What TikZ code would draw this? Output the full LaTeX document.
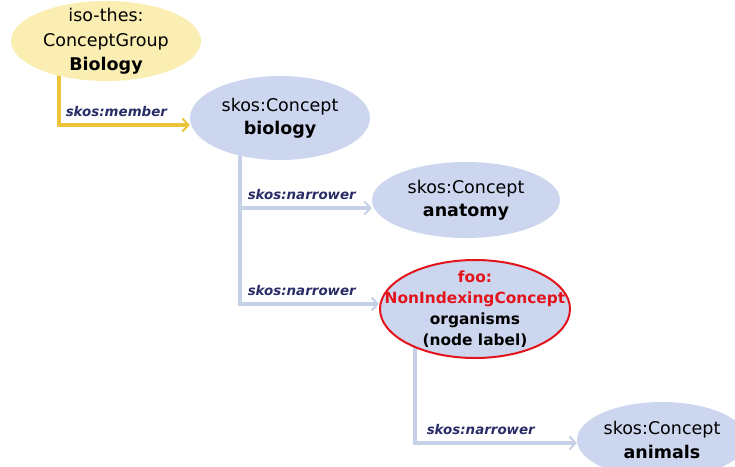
\documentclass[tikz,border=0pt]{standalone}
\usepackage{fontspec}
\setmainfont{DejaVu Sans}
\usetikzlibrary{shapes.geometric, arrows.meta, backgrounds}

\definecolor{groupfill}{HTML}{FAEEB3}
\definecolor{conceptfill}{HTML}{CCD6EF}
\definecolor{linkblue}{HTML}{C6D0E6}
\definecolor{linkyellow}{HTML}{EBC43C}
\definecolor{labelnavy}{HTML}{2A2C68}
\definecolor{nonindex}{HTML}{E3141C}

\tikzset{
    concept/.style={ellipse, fill=conceptfill, align=center,
        inner xsep=-30pt, inner ysep=-20pt,
        font=\fontsize{17.5}{23.5}\selectfont},
    group/.style={concept, fill=groupfill},
    narrowlink/.style={draw=linkblue, line width=3.5pt,
        -{Straight Barb[length=6pt, width=13pt, line width=2pt]}},
    memberlink/.style={narrowlink, draw=linkyellow},
    linklabel/.style={font=\fontsize{13.4}{15}\selectfont\bfseries\itshape,
        text=labelnavy, inner sep=2pt}
}

\begin{document}
\begin{tikzpicture}[x=1pt, y=-1pt]
    \useasboundingbox (0,0) rectangle (735,466);

    % nodes
    \node[group, minimum width=190pt, minimum height=80pt] (bio) at (106,41)
        {\raisebox{2pt}{iso-thes:}\\ConceptGroup\\\textbf{Biology}};
    \node[concept, minimum width=180pt, minimum height=84pt] (biology) at (280,118)
        {skos:Concept\\\textbf{biology}};
    \node[concept, minimum width=188pt, minimum height=76pt] (anatomy) at (466,200)
        {skos:Concept\\\textbf{anatomy}};
    \node[concept, draw=nonindex, line width=2pt, minimum width=190pt,
        minimum height=98pt, font=\fontsize{15.4}{21}\selectfont\bfseries] (organisms) at (475,309)
        {\textcolor{nonindex}{foo:}\\\textcolor{nonindex}{NonIndexingConcept}\\organisms\\(node label)};
    \node[concept, minimum width=170pt, minimum height=76pt] (animals) at (662,440)
        {skos:Concept\\\textbf{animals}};

    % links
    \begin{scope}[on background layer]
        \draw[memberlink] ([xshift=-47pt]bio.center) |- ([yshift=-7pt]biology.west)
            node[linklabel, pos=0.5, above right, xshift=3pt, yshift=5pt] (member) {skos:member};
        \draw[narrowlink] ([xshift=-40pt]biology.center) |- ([yshift=-8pt]anatomy.west)
            node[linklabel, pos=0.5, above right, xshift=4pt, yshift=5pt] (nar1) {skos:narrower};
        \draw[narrowlink] ([xshift=-40pt]biology.center) |- ([yshift=5pt]organisms.west)
            node[linklabel, pos=0.5, above right, xshift=4pt, yshift=5pt] (nar2) {skos:narrower};
        \draw[narrowlink] ([xshift=-60pt]organisms.center) |- ([yshift=-3pt]animals.west)
            node[linklabel, pos=0.5, above right, xshift=8pt, yshift=5pt] (nar3) {skos:narrower};
    \end{scope}
\end{tikzpicture}
\end{document}
